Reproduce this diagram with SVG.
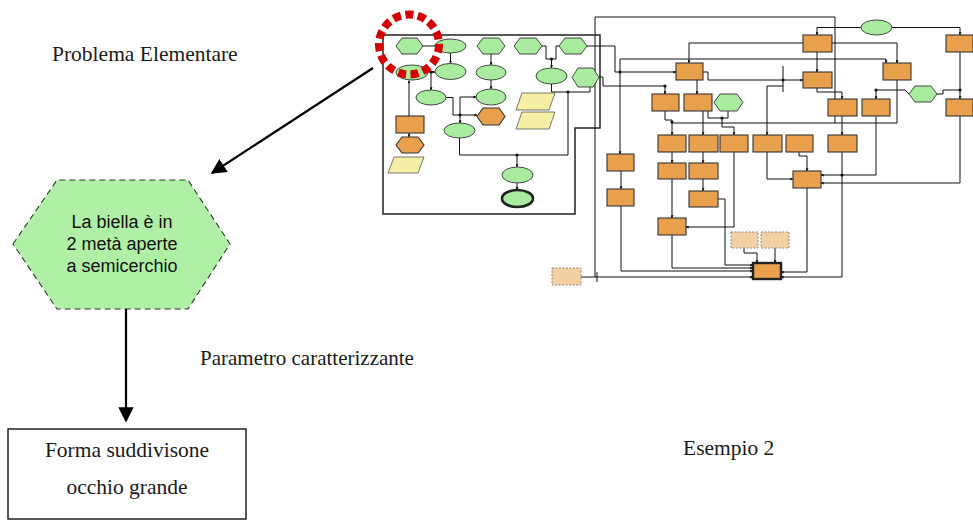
<svg xmlns="http://www.w3.org/2000/svg" width="973" height="527" viewBox="0 0 973 527">
<style>
.serif{font-family:"Liberation Serif","Times New Roman",serif;fill:#1a1a1a}
.sans{font-family:"Liberation Sans",Arial,sans-serif;fill:#111}
.g{fill:#a9eca0;stroke:#333;stroke-width:0.9}
.o{fill:#e8a04c;stroke:#333;stroke-width:1.1}
.y{fill:#f6f0a6;stroke:#555;stroke-width:0.8}
.b{fill:#f4d1a4;stroke:#888;stroke-width:1;stroke-dasharray:2 1.5}
.w{fill:none;stroke:#111;stroke-width:1}
.frame{fill:#fff;stroke:#222;stroke-width:1.5}
.j{fill:#111}
.big{fill:none;stroke:#000;stroke-width:2.2}
</style>
<defs>
<marker id="ah" viewBox="0 0 10 10" refX="9" refY="5" markerWidth="7" markerHeight="7" markerUnits="strokeWidth" orient="auto">
<path d="M0,0 L10,5 L0,10 Z" fill="#000"/>
</marker>
<marker id="ms" viewBox="0 0 10 10" refX="9" refY="5" markerWidth="3" markerHeight="3" markerUnits="userSpaceOnUse" orient="auto">
<path d="M0,0 L10,5 L0,10 Z" fill="#111"/>
</marker>
</defs>
<rect width="973" height="527" fill="#fff"/>

<!-- labels -->
<text class="serif" x="52" y="61" font-size="21.5">Problema Elementare</text>
<text class="serif" x="200" y="365" font-size="21">Parametro caratterizzante</text>
<text class="serif" x="683" y="455" font-size="21.5">Esempio 2</text>

<!-- main nodes -->
<g id="node-biella">
<polygon points="13,244 57,180 188,180 230,244 188,309 57,309" fill="#b0f0a6" stroke="#333" stroke-width="1.1" stroke-dasharray="6 4"/>
<text class="sans" font-size="18" text-anchor="middle"><tspan x="122" y="228">La biella è in</tspan><tspan x="122" y="250">2 metà aperte</tspan><tspan x="122" y="272">a semicerchio</tspan></text>
</g>
<g id="node-forma">
<rect x="8" y="429" width="238" height="90" fill="#fff" stroke="#111" stroke-width="1.4"/>
<text class="serif" font-size="21.5" text-anchor="middle"><tspan x="127" y="457">Forma suddivisone</tspan><tspan x="127" y="494">occhio grande</tspan></text>
</g>

<g id="connectors">
<line class="big" x1="373" y1="68" x2="212" y2="173" marker-end="url(#ah)"/>
<line class="big" x1="126" y1="309" x2="126" y2="421" marker-end="url(#ah)"/>
</g>

<!-- thumbnail of example process -->
<g id="thumbnail">
<path class="frame" d="M383,35 H600 V128 H575 V214 H383 Z"/>

<g id="thumb-connectors">
<path class="w" d="M409,116 V80.5" marker-end="url(#ms)"/>
<path class="w" d="M409,133 V137" marker-end="url(#ms)"/>
<path class="w" d="M423,46 H435"/>
<path class="w" d="M428,72 H435" marker-end="url(#ms)"/>
<path class="w" d="M431,72 V90" marker-end="url(#ms)"/>
<path class="w" d="M450.5,53 V63.5" marker-end="url(#ms)"/>
<path class="w" d="M491,54 V65" marker-end="url(#ms)"/>
<path class="w" d="M491,80 V89" marker-end="url(#ms)"/>
<path class="w" d="M446,97.5 H453 V115 H460"/>
<path class="w" d="M460,115 V97 H476" marker-end="url(#ms)"/>
<path class="w" d="M460,115 H477" marker-end="url(#ms)"/>
<path class="w" d="M460,115 V123" marker-end="url(#ms)"/>
<path class="w" d="M459.5,138 V155 H568 V92"/>
<path class="w" d="M517,155 V167" marker-end="url(#ms)"/>
<path class="w" d="M517,183 V190" marker-end="url(#ms)"/>
<path class="w" d="M551.5,84 V92 H568"/>
<path class="w" d="M568,92 H590 V87"/>
<path class="w" d="M542,46 H546 V59 H556 V46 H559"/>
<path class="w" d="M551.5,59 V68" marker-end="url(#ms)"/>
<path class="w" d="M587,46 H615 V72 H676" marker-end="url(#ms)"/>
<path class="w" d="M599,77 H603 V86 H665 V94" marker-end="url(#ms)"/>
<path class="w" d="M595,277 V17 H835 V123 H672"/>
<path class="w" d="M581,277 H753" marker-end="url(#ms)"/>
<path class="w" d="M597,272 V282"/>
<path class="w" d="M620,59 H886 V63" marker-end="url(#ms)"/>
<path class="w" d="M620,59 V154" marker-end="url(#ms)"/>
<path class="w" d="M861,27.5 H817 V35" marker-end="url(#ms)"/>
<path class="w" d="M892,27.5 H960 V35" marker-end="url(#ms)"/>
<path class="w" d="M817,52 V72" marker-end="url(#ms)"/>
<path class="w" d="M803,43 H689 V63" marker-end="url(#ms)"/>
<path class="w" d="M832,43 H897 V63" marker-end="url(#ms)"/>
<path class="w" d="M703,72 H708 V80 H803" marker-end="url(#ms)"/>
<path class="w" d="M767,86 H783 M783,66 V92"/>
<path class="w" d="M697,80 V94" marker-end="url(#ms)"/>
<path class="w" d="M665,111 V120 H672 V135" marker-end="url(#ms)"/>
<path class="w" d="M897,80 V123 H835"/>
<path class="w" d="M703,111 V135" marker-end="url(#ms)"/>
<path class="w" d="M708,111 V118 H728 V111 M722,118 V127 H734 V135" marker-end="url(#ms)"/>
<path class="w" d="M767,86 V135" marker-end="url(#ms)"/>
<path class="w" d="M672,152 V163" marker-end="url(#ms)"/>
<path class="w" d="M672,179 V218" marker-end="url(#ms)"/>
<path class="w" d="M703,152 V163" marker-end="url(#ms)"/>
<path class="w" d="M703,179 V191" marker-end="url(#ms)"/>
<path class="w" d="M734,152 V227 H686" marker-end="url(#ms)"/>
<path class="w" d="M718,199 H725 V265 H753" marker-end="url(#ms)"/>
<path class="w" d="M672,235 V268 H753" marker-end="url(#ms)"/>
<path class="w" d="M621,171 V189" marker-end="url(#ms)"/>
<path class="w" d="M621,206 V271 H753" marker-end="url(#ms)"/>
<path class="w" d="M744,248 V253 H757 V263" marker-end="url(#ms)"/>
<path class="w" d="M775,248 V263" marker-end="url(#ms)"/>
<path class="w" d="M807,188 V272 H781" marker-end="url(#ms)"/>
<path class="w" d="M767,152 V179 H793" marker-end="url(#ms)"/>
<path class="w" d="M799,152 V156 H807 V171" marker-end="url(#ms)"/>
<path class="w" d="M842,152 V277 H781" marker-end="url(#ms)"/>
<path class="w" d="M876,116 V175 H821" marker-end="url(#ms)"/>
<path class="w" d="M960,116 V183 H821" marker-end="url(#ms)"/>
<path class="w" d="M842,116 V135" marker-end="url(#ms)"/>
<path class="w" d="M817,88 V92 H842 V99" marker-end="url(#ms)"/>
<path class="w" d="M876,90 H905 L909,94"/>
<path class="w" d="M876,90 V99" marker-end="url(#ms)"/>
<path class="w" d="M937,94 H943 V90 H960"/>
<path class="w" d="M960,52 V99" marker-end="url(#ms)"/>
<circle class="j" cx="431" cy="72" r="1.6"/>
<circle class="j" cx="460" cy="115" r="1.6"/>
<circle class="j" cx="517" cy="155" r="1.6"/>
<circle class="j" cx="568" cy="92" r="1.6"/>
<circle class="j" cx="551.5" cy="59" r="1.6"/>
<circle class="j" cx="620" cy="72" r="1.6"/>
<circle class="j" cx="665" cy="86" r="1.6"/>
<circle class="j" cx="672" cy="122" r="1.6"/>
<circle class="j" cx="722" cy="118" r="1.6"/>
<circle class="j" cx="783" cy="80" r="1.6"/>
<circle class="j" cx="842" cy="175" r="1.6"/>
<circle class="j" cx="960" cy="90" r="1.6"/>
<circle class="j" cx="876" cy="90" r="1.6"/>
</g>

<g id="t-h1"><polygon class="g" points="396,46 402,38 417,38 423,46 417,54 402,54"/></g>
<g id="t-e1"><ellipse class="g" cx="450.5" cy="46" rx="15.5" ry="7"/></g>
<g id="t-h2"><polygon class="g" points="477,46 483,38 499,38 505,46 499,54 483,54"/></g>
<g id="t-h3"><polygon class="g" points="514,46 520,38 536,38 542,46 536,54 520,54"/></g>
<g id="t-h4"><polygon class="g" points="559,46 565,38 581,38 587,46 581,54 565,54"/></g>
<g id="t-e2"><ellipse class="g" cx="412" cy="72.5" rx="16" ry="7.5"/></g>
<g id="t-e3"><ellipse class="g" cx="450.5" cy="71.5" rx="15.5" ry="8"/></g>
<g id="t-e4"><ellipse class="g" cx="491" cy="72.5" rx="15" ry="7.5"/></g>
<g id="t-e5"><ellipse class="g" cx="551.5" cy="76" rx="15.5" ry="8"/></g>
<g id="t-h5"><polygon class="g" points="572,77.5 578,68 593,68 599,77.5 593,87 578,87"/></g>
<g id="t-e6"><ellipse class="g" cx="431" cy="97.5" rx="15" ry="7.5"/></g>
<g id="t-e7"><ellipse class="g" cx="491" cy="97" rx="15" ry="8"/></g>
<g id="t-oh1"><polygon class="o" points="477,116.5 483,108 499,108 505,116.5 499,125 483,125"/></g>
<g id="t-or1"><rect class="o" x="396" y="116" width="28" height="17"/></g>
<g id="t-e8"><ellipse class="g" cx="459.5" cy="130.5" rx="15.5" ry="7.5"/></g>
<g id="t-oh2"><polygon class="o" points="396,145 402,137 418,137 424,145 418,153 402,153"/></g>
<g id="t-p1"><polygon class="y" points="522,93 555,93 549,110 516,110"/></g>
<g id="t-p2"><polygon class="y" points="522,112 555,112 549,129 516,129"/></g>
<g id="t-p3"><polygon class="y" points="394,157 424,157 418,173 388,173"/></g>
<g id="t-e9"><ellipse class="g" cx="517.5" cy="175" rx="15.5" ry="8"/></g>
<g id="t-e10"><ellipse class="g" cx="517.5" cy="198.5" rx="15.5" ry="8.5" style="stroke:#222;stroke-width:2.6"/></g>

<g id="t-ora"><rect class="o" x="676" y="63" width="27" height="17"/></g>
<g id="t-orb"><rect class="o" x="652" y="94" width="27" height="17"/></g>
<g id="t-orc"><rect class="o" x="684" y="94" width="28" height="17"/></g>
<g id="t-gh"><polygon class="g" points="714,102.5 720,94 737,94 743,102.5 737,111 720,111"/></g>
<g id="t-r1a"><rect class="o" x="658" y="135" width="28" height="17"/></g>
<g id="t-r1b"><rect class="o" x="689" y="135" width="29" height="17"/></g>
<g id="t-r1c"><rect class="o" x="720" y="135" width="28" height="17"/></g>
<g id="t-r1d"><rect class="o" x="753" y="135" width="29" height="17"/></g>
<g id="t-r1e"><rect class="o" x="786" y="135" width="27" height="17"/></g>
<g id="t-r1f"><rect class="o" x="828" y="135" width="29" height="17"/></g>
<g id="t-r2a"><rect class="o" x="658" y="163" width="28" height="16"/></g>
<g id="t-r2b"><rect class="o" x="689" y="163" width="29" height="16"/></g>
<g id="t-r3b"><rect class="o" x="689" y="191" width="29" height="16"/></g>
<g id="t-r4a"><rect class="o" x="658" y="218" width="28" height="17"/></g>
<g id="t-l1"><rect class="o" x="607" y="154" width="27" height="17"/></g>
<g id="t-l2"><rect class="o" x="607" y="189" width="27" height="17"/></g>
<g id="t-rr"><rect class="o" x="793" y="171" width="28" height="17"/></g>
<g id="t-d1"><rect class="b" x="731" y="232" width="27" height="16"/></g>
<g id="t-d2"><rect class="b" x="761" y="232" width="28" height="16"/></g>
<g id="t-d0"><rect class="b" x="552" y="268" width="29" height="17"/></g>
<g id="t-bielle"><rect class="o" x="753" y="263" width="28" height="16" style="stroke:#222;stroke-width:2.4"/></g>
<g id="t-z3a"><rect class="o" x="803" y="35" width="29" height="17"/></g>
<g id="t-z3b"><rect class="o" x="946" y="35" width="27" height="17"/></g>
<g id="t-z3c"><rect class="o" x="883" y="63" width="28" height="17"/></g>
<g id="t-z3d"><rect class="o" x="803" y="72" width="29" height="16"/></g>
<g id="t-z3e"><rect class="o" x="828" y="99" width="29" height="17"/></g>
<g id="t-z3f"><rect class="o" x="862" y="99" width="28" height="17"/></g>
<g id="t-gh2"><polygon class="g" points="909,94 915,86 931,86 937,94 931,102 915,102"/></g>
<g id="t-z3g"><rect class="o" x="946" y="99" width="27" height="17"/></g>
<g id="t-etop"><ellipse class="g" cx="876.5" cy="27.5" rx="15.5" ry="7.5"/></g>

<circle cx="409" cy="44.5" r="30" fill="none" stroke="#d40000" stroke-width="8" stroke-dasharray="8 4.5"/>
</g>
</svg>
